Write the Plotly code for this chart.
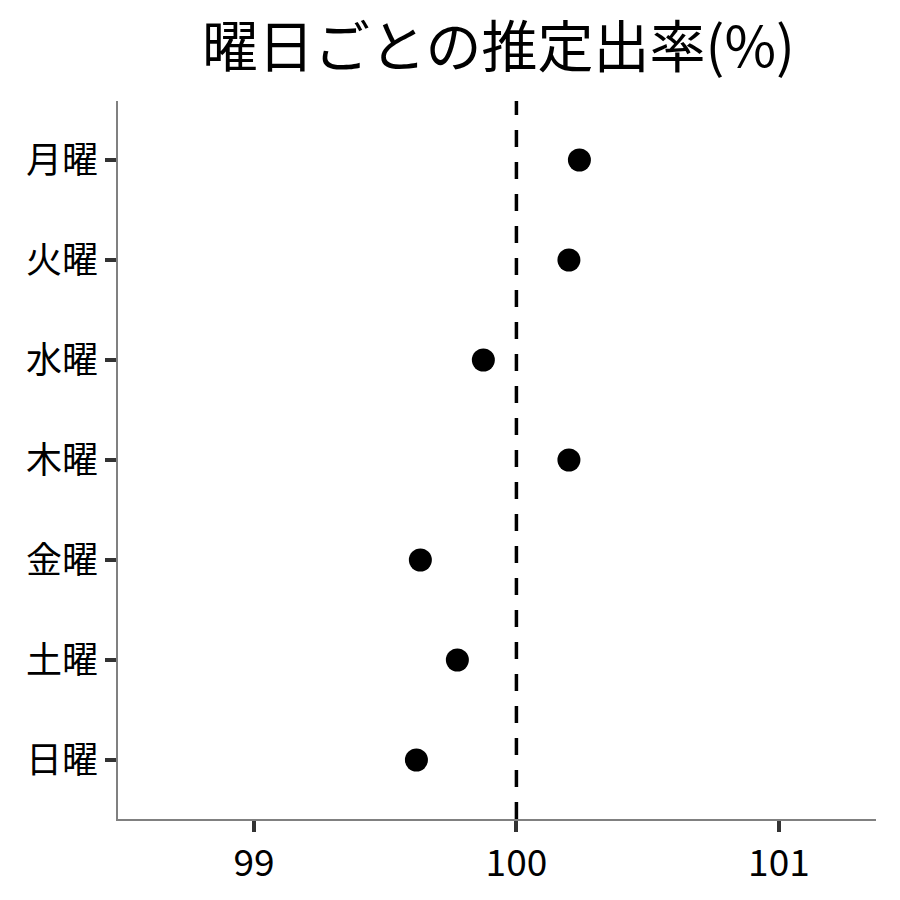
import plotly.graph_objects as go

days = ["月曜", "火曜", "水曜", "木曜", "金曜", "土曜", "日曜"]
rates = [100.24, 100.20, 99.874, 100.20, 99.634, 99.775, 99.619]
ref_value = 100
x_ticks = [99, 100, 101]
title = "曜日ごとの推定出率(%)"

font = "Noto Sans CJK JP"

fig = go.Figure()
fig.add_trace(go.Scatter(
    x=rates, y=days, mode="markers",
    marker=dict(color="black", size=23),
    showlegend=False,
))
fig.add_vline(x=ref_value, line=dict(color="black", width=3.5, dash="17px,15px"))

fig.update_layout(
    width=900, height=900,
    paper_bgcolor="white", plot_bgcolor="white",
    margin=dict(l=110, r=32, t=93, b=89),
    title=dict(text=title, x=0.545, xanchor="center", y=0.956, yanchor="middle",
               font=dict(family=font, size=56, color="black")),
    font=dict(family=font),
)
fig.update_xaxes(
    range=[98.482, 101.37], tickvals=x_ticks, ticktext=[str(v) for v in x_ticks],
    showline=True, linecolor="#808080", linewidth=1.5, mirror=False,
    ticks="outside", ticklen=11, tickwidth=3.5, tickcolor="#333333",
    showgrid=False, zeroline=False, ticklabelstandoff=0,
    tickfont=dict(family=font, size=37, color="black"),
)
fig.update_yaxes(
    categoryorder="array", categoryarray=days[::-1], range=[-0.59, 6.59],
    showline=True, linecolor="#808080", linewidth=1.5,
    ticks="outside", ticklen=11, tickwidth=3.5, tickcolor="#333333",
    showgrid=False, zeroline=False, ticklabelstandoff=0,
    tickfont=dict(family=font, size=36, color="black"),
)
fig.write_html("out.html")
